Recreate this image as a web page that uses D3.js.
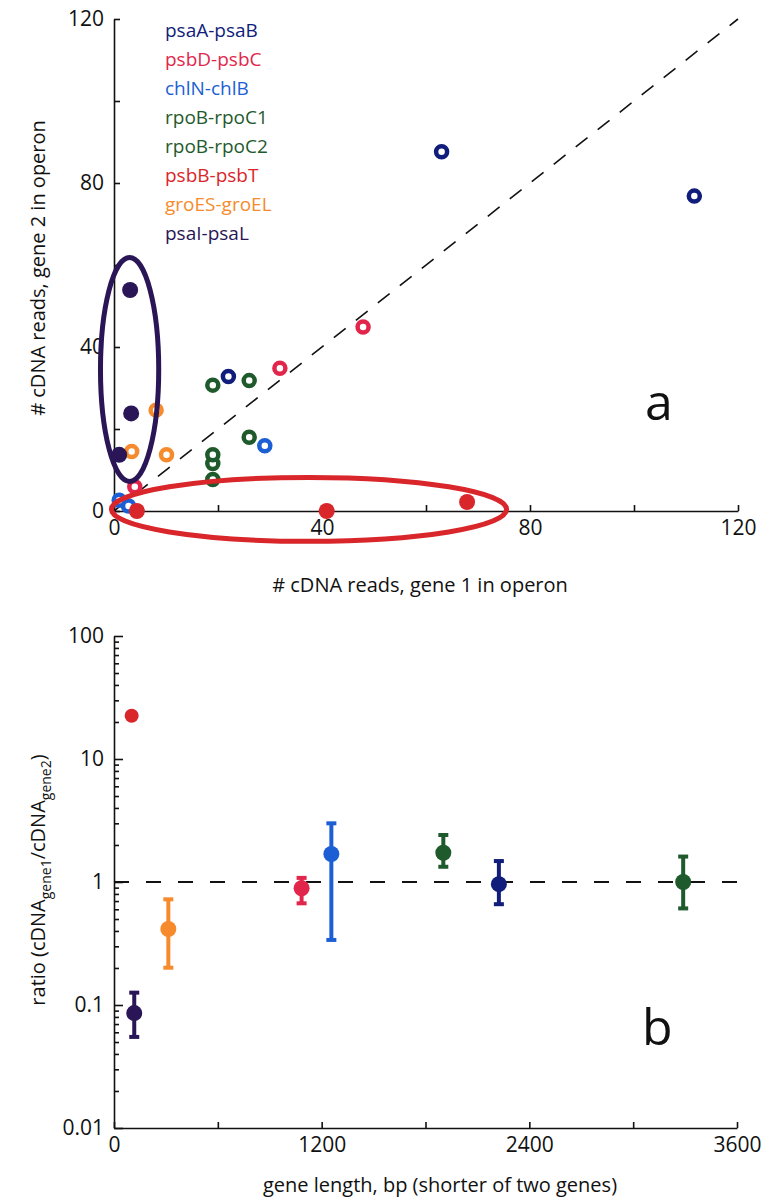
<!DOCTYPE html>
<html>
<head>
<meta charset="utf-8">
<script src="https://cdn.jsdelivr.net/npm/d3@7"></script>
<style>
body { margin: 0; background: #fff; }
text { font-family: "Open Sans", sans-serif; fill: #111; }
</style>
</head>
<body>
<script>
// operons, legend order, and their colours
var operons = ['psaA-psaB', 'psbD-psbC', 'chlN-chlB', 'rpoB-rpoC1', 'rpoB-rpoC2', 'psbB-psbT', 'groES-groEL', 'psaI-psaL'];
var colors = ['#101d7a', '#e2264b', '#1c5fd4', '#1f5a2c', '#1f5a2c', '#d9262b', '#f68b2d', '#2a1656'];
var filledOperons = ['psbB-psbT', 'psaI-psaL'];

// panel a: cDNA reads of gene 1 / gene 2 per replicate
var readsOperon = ['psaA-psaB', 'psaA-psaB', 'psaA-psaB',
  'psbD-psbC', 'psbD-psbC', 'psbD-psbC',
  'chlN-chlB', 'chlN-chlB', 'chlN-chlB',
  'rpoB-rpoC1', 'rpoB-rpoC1', 'rpoB-rpoC1',
  'rpoB-rpoC2', 'rpoB-rpoC2', 'rpoB-rpoC2',
  'groES-groEL', 'groES-groEL', 'groES-groEL',
  'psbB-psbT', 'psbB-psbT', 'psbB-psbT',
  'psaI-psaL', 'psaI-psaL', 'psaI-psaL'];
var readsGene1 = [63, 111.6, 22, 47.9, 31.9, 4, 29, 1, 2.8, 19, 19, 26, 19, 26, 19, 8.1, 3.4, 10.1, 4.4, 40.9, 67.9, 3.1, 3.3, 1];
var readsGene2 = [87.6, 76.8, 32.8, 44.9, 34.8, 5.9, 15.9, 2.6, 1.2, 11.6, 7.7, 18, 30.7, 31.8, 13.7, 24.6, 14.5, 13.7, 0, 0, 2.2, 53.9, 23.8, 13.7];

// panel a: circled groups (centre and half-widths, in reads)
var ringOperon = ['psaI-psaL', 'psbB-psbT'];
var ringCx = [3, 37.5];
var ringCy = [34.5, 0.4];
var ringRx = [5.6, 38];
var ringRy = [27.3, 7.8];

// panel b: ratio vs gene length
var ratioOperon = ['psaI-psaL', 'groES-groEL', 'psbD-psbC', 'chlN-chlB', 'rpoB-rpoC1', 'psaA-psaB', 'rpoB-rpoC2', 'psbB-psbT'];
var lengthBp = [117, 314, 1084, 1256, 1903, 2224, 3289, 102];
var ratio = [0.086, 0.415, 0.89, 1.69, 1.73, 0.96, 1.0, 22.5];
var ratioLow = [0.055, 0.201, 0.671, 0.338, 1.33, 0.66, 0.61, null];
var ratioHigh = [0.126, 0.723, 1.08, 3.0, 2.41, 1.48, 1.61, null];

var readTicks = [0, 20, 40, 60, 80, 100, 120];
var lengthTicks = [0, 600, 1200, 1800, 2400, 3000, 3600];
var ratioMajor = [0.01, 0.1, 1, 10, 100];

var color = d3.scaleOrdinal().domain(operons).range(colors);

var W = 771, H = 1200;
var svg = d3.select('body').append('svg')
  .attr('width', W)
  .attr('height', H);

// ---------- panel a ----------
var xa = d3.scaleLinear().domain([0, 120]).range([114, 738]);
var ya = d3.scaleLinear().domain([0, 120]).range([511, 19]);

svg.append('line')
  .attr('x1', xa(0)).attr('y1', ya(0))
  .attr('x2', xa(120)).attr('y2', ya(120))
  .attr('stroke', '#111')
  .attr('stroke-width', 1.6)
  .attr('stroke-dasharray', '15,13');

svg.append('g').attr('transform', 'translate(0,' + ya(0) + ')')
  .call(d3.axisBottom(xa).tickValues(readTicks).tickSizeInner(-6).tickSizeOuter(0).tickPadding(9)
    .tickFormat(function(d){ return d % 40 === 0 ? d : ''; }));
svg.append('g').attr('transform', 'translate(' + xa(0) + ',0)')
  .call(d3.axisLeft(ya).tickValues(readTicks).tickSizeInner(-6).tickSizeOuter(0).tickPadding(10)
    .tickFormat(function(d){ return d % 40 === 0 ? d : ''; }));

svg.selectAll('.pta')
  .data(readsGene1)
  .enter()
  .append('circle')
  .attr('class', 'pta')
  .attr('cx', function(d){ return xa(d); })
  .attr('cy', function(d, i){ return ya(readsGene2[i]); })
  .attr('r', function(d, i){ return filledOperons.indexOf(readsOperon[i]) >= 0 ? 8 : 5.5; })
  .attr('fill', function(d, i){ return filledOperons.indexOf(readsOperon[i]) >= 0 ? color(readsOperon[i]) : '#fff'; })
  .attr('stroke', function(d, i){ return filledOperons.indexOf(readsOperon[i]) >= 0 ? 'none' : color(readsOperon[i]); })
  .attr('stroke-width', 4.5);

svg.selectAll('.ring')
  .data(ringCx)
  .enter()
  .append('ellipse')
  .attr('class', 'ring')
  .attr('cx', function(d){ return xa(d); })
  .attr('cy', function(d, i){ return ya(ringCy[i]); })
  .attr('rx', function(d, i){ return xa(ringRx[i]) - xa(0); })
  .attr('ry', function(d, i){ return ya(0) - ya(ringRy[i]); })
  .attr('fill', 'none')
  .attr('stroke', function(d, i){ return color(ringOperon[i]); })
  .attr('stroke-width', 5);

// legend
svg.selectAll('.leg')
  .data(operons)
  .enter()
  .append('text')
  .attr('class', 'leg')
  .attr('x', 165)
  .attr('y', function(d, i){ return 37 + i * 29; })
  .attr('font-size', '19px')
  .style('fill', function(d){ return color(d); })
  .text(function(d){ return d; });

svg.append('text').attr('x', 645).attr('y', 420).attr('font-size', '50px').text('a');
svg.append('text')
  .attr('x', 420).attr('y', 592)
  .attr('text-anchor', 'middle')
  .attr('font-size', '20px')
  .text('# cDNA reads, gene 1 in operon');
svg.append('text')
  .attr('transform', 'translate(45,268) rotate(-90)')
  .attr('text-anchor', 'middle')
  .attr('font-size', '20px')
  .text('# cDNA reads, gene 2 in operon');

// ---------- panel b ----------
var xb = d3.scaleLinear().domain([0, 3600]).range([114, 737]);
var yb = d3.scaleLog().domain([0.01, 100]).range([1128, 636]);

var ratioMinor = [];
ratioMajor.slice(0, 4).forEach(function(p){
  for (var k = 2; k <= 9; k++) ratioMinor.push(p * k);
});

svg.append('line')
  .attr('x1', xb(0)).attr('x2', xb(3600))
  .attr('y1', yb(1)).attr('y2', yb(1))
  .attr('stroke', '#111')
  .attr('stroke-width', 2)
  .attr('stroke-dasharray', '15,17');

svg.append('g').attr('transform', 'translate(0,' + yb(0.01) + ')')
  .call(d3.axisBottom(xb).tickValues(lengthTicks).tickSizeInner(-6).tickSizeOuter(0).tickPadding(9)
    .tickFormat(function(d){ return d % 1200 === 0 ? d : ''; }));
svg.append('g').attr('transform', 'translate(' + xb(0) + ',0)')
  .call(d3.axisLeft(yb).tickValues(ratioMinor).tickSizeInner(-5).tickSizeOuter(0).tickFormat(''))
  .select('.domain').remove();
svg.append('g').attr('transform', 'translate(' + xb(0) + ',0)')
  .call(d3.axisLeft(yb).tickValues(ratioMajor).tickSizeInner(-9).tickSizeOuter(0).tickPadding(10)
    .tickFormat(function(d){ return String(d); }));

// error bars
var bars = svg.selectAll('.err')
  .data(lengthBp.filter(function(d, i){ return ratioLow[i] !== null; }))
  .enter()
  .append('g')
  .attr('class', 'err')
  .attr('stroke', function(d){ return color(ratioOperon[lengthBp.indexOf(d)]); });
bars.append('line')
  .attr('x1', function(d){ return xb(d); })
  .attr('x2', function(d){ return xb(d); })
  .attr('y1', function(d){ return yb(ratioLow[lengthBp.indexOf(d)]); })
  .attr('y2', function(d){ return yb(ratioHigh[lengthBp.indexOf(d)]); })
  .attr('stroke-width', 4);
bars.append('line')
  .attr('x1', function(d){ return xb(d) - 5; })
  .attr('x2', function(d){ return xb(d) + 5; })
  .attr('y1', function(d){ return yb(ratioLow[lengthBp.indexOf(d)]); })
  .attr('y2', function(d){ return yb(ratioLow[lengthBp.indexOf(d)]); })
  .attr('stroke-width', 4);
bars.append('line')
  .attr('x1', function(d){ return xb(d) - 5; })
  .attr('x2', function(d){ return xb(d) + 5; })
  .attr('y1', function(d){ return yb(ratioHigh[lengthBp.indexOf(d)]); })
  .attr('y2', function(d){ return yb(ratioHigh[lengthBp.indexOf(d)]); })
  .attr('stroke-width', 4);

svg.selectAll('.ptb')
  .data(lengthBp)
  .enter()
  .append('circle')
  .attr('class', 'ptb')
  .attr('cx', function(d){ return xb(d); })
  .attr('cy', function(d, i){ return yb(ratio[i]); })
  .attr('r', function(d, i){ return ratioLow[i] === null ? 7 : 8; })
  .attr('fill', function(d, i){ return color(ratioOperon[i]); });

svg.append('text').attr('x', 642).attr('y', 1045).attr('font-size', '50px').text('b');
svg.append('text')
  .attr('x', 440).attr('y', 1192)
  .attr('text-anchor', 'middle')
  .attr('font-size', '20px')
  .text('gene length, bp (shorter of two genes)');
var yt = svg.append('text')
  .attr('transform', 'translate(45,880) rotate(-90)')
  .attr('text-anchor', 'middle')
  .attr('font-size', '20px');
yt.append('tspan').text('ratio (cDNA');
yt.append('tspan').attr('font-size', '14px').attr('dy', 6).text('gene1');
yt.append('tspan').attr('dy', -6).text('/cDNA');
yt.append('tspan').attr('font-size', '14px').attr('dy', 6).text('gene2');
yt.append('tspan').attr('dy', -6).text(')');

// axis styling
svg.selectAll('.tick text').attr('font-size', '21px').style('font-family', '"Open Sans", sans-serif').style('fill', '#111');
svg.selectAll('.domain, .tick line').attr('stroke', '#111').attr('stroke-width', 1.6);
</script>
</body>
</html>
